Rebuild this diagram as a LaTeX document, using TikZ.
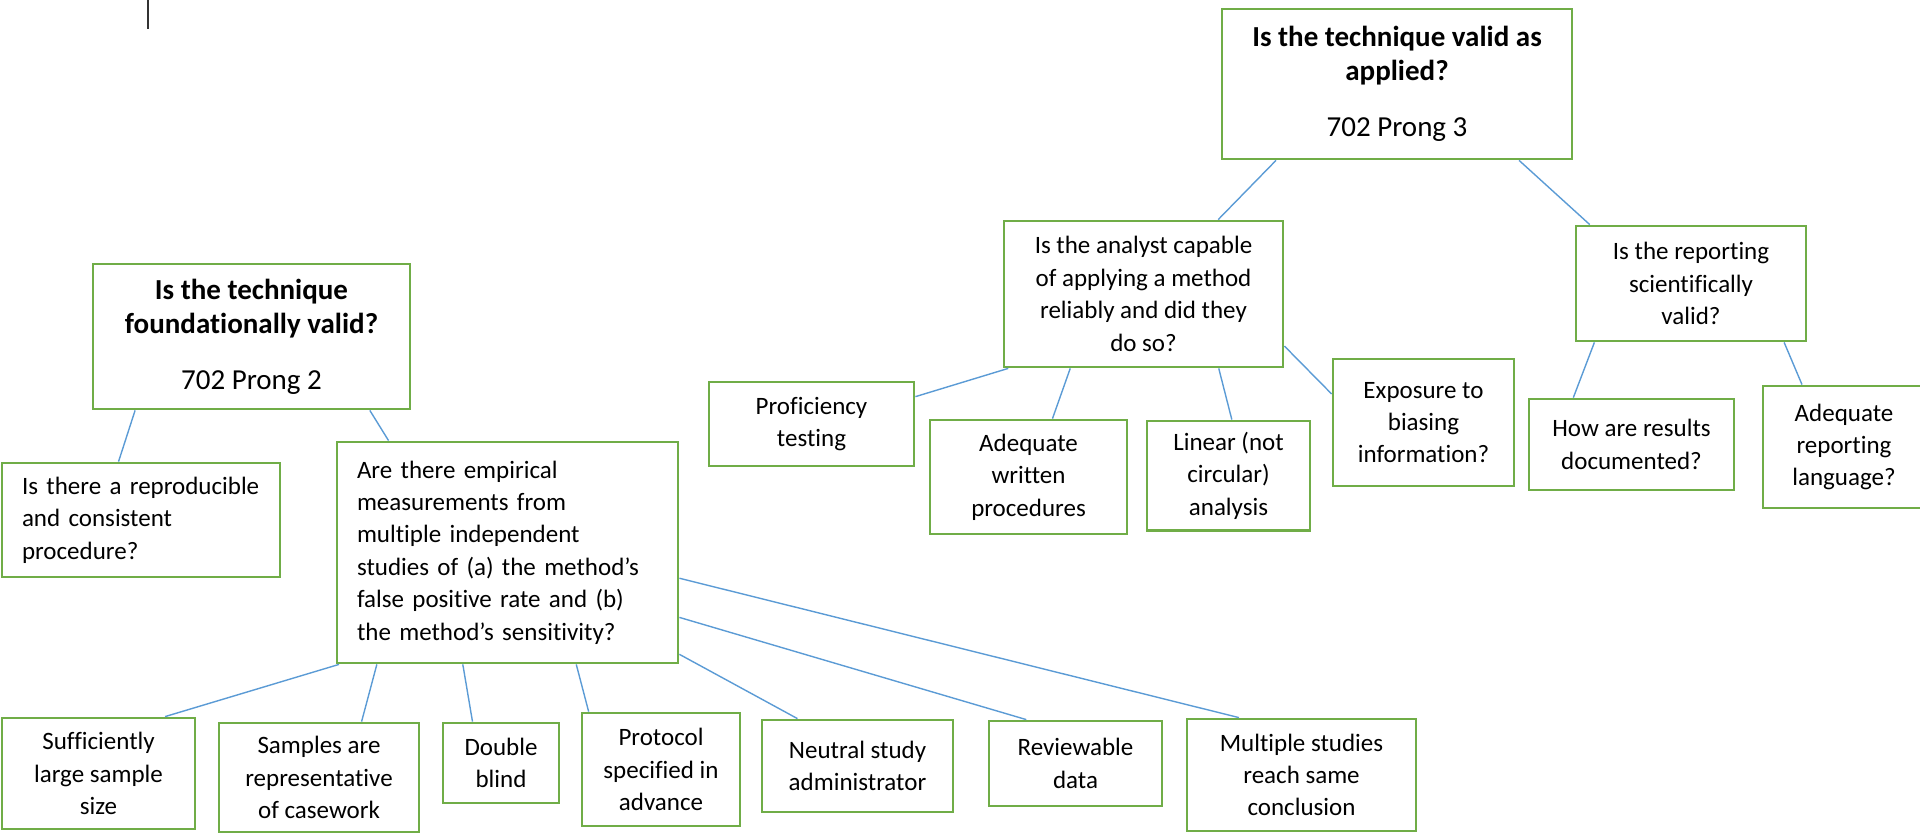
\documentclass[tikz,border=0pt]{standalone}
\usepackage{fontspec}
\setmainfont[Ligatures=NoCommon]{Carlito}
\usetikzlibrary{calc}
\definecolor{boxgreen}{RGB}{112,173,71}
\definecolor{lineblue}{RGB}{91,155,213}

\begin{document}
\begin{tikzpicture}[x=0.5pt,y=-0.5pt,
	box/.style={draw=boxgreen,line width=1.4pt,rectangle,inner sep=0pt,align=center,font=\fontsize{12.5}{16.2}\selectfont},
	title/.style={box,font=\fontsize{14.5}{17}\selectfont},
	link/.style={draw=lineblue,line width=0.7pt}]
	\useasboundingbox (0,0) rectangle (1920,833);
	\draw [line width=0.7pt,color=black!80] (148,0) -- (148,29);
	% the two prongs
	\node[title,minimum width=175pt,minimum height=75pt] (applied) at (1397,84) {\textbf{Is the technique valid as}\\\textbf{applied?}\\[11pt]702 Prong 3};
	\node[title,minimum width=158.5pt,minimum height=72.5pt] (found) at (251.5,336.5) {\textbf{Is the technique}\\\textbf{foundationally valid?}\\[11pt]702 Prong 2};
	\node[box,minimum width=139.5pt,minimum height=73pt] (analyst) at (1143.5,294) {Is the analyst capable\\of applying a method\\reliably and did they\\do so?};
	\node[box,minimum width=115pt,minimum height=57.5pt] (report) at (1691,283.5) {Is the reporting\\scientifically\\valid?};
	\node[box,align=left,text width=119pt,minimum width=139pt,minimum height=57pt] (repro) at (141,520) {Is there a reproducible\\and consistent\\procedure?};
	\node[box,align=left,text width=150.5pt,minimum width=170.5pt,minimum height=110.5pt] (empir) at (507.5,552.5) {Are there empirical\\measurements from\\multiple independent\\studies of (a) the method’s\\false positive rate and (b)\\the method’s sensitivity?};
	% as applied
	\node[box,minimum width=102.5pt,minimum height=42pt] (prof) at (811.5,424) {Proficiency\\testing};
	\node[box,minimum width=98.5pt,minimum height=57pt] (written) at (1028.5,477) {Adequate\\written\\procedures};
	\node[box,minimum width=81.5pt,minimum height=54.75pt] (linear) at (1228.5,475.75) {Linear (not\\circular)\\analysis};
	\node[box,minimum width=90.5pt,minimum height=63.5pt] (bias) at (1423.5,422.5) {Exposure to\\biasing\\information?};
	\node[box,minimum width=102.5pt,minimum height=45.5pt] (docu) at (1631.5,444.5) {How are results\\documented?};
	\node[box,minimum width=81pt,minimum height=61pt] (lang) at (1844,447) {Adequate\\reporting\\language?};
	% foundational
	\node[box,minimum width=96.5pt,minimum height=55.5pt] (size) at (98.5,773.5) {Sufficiently\\large sample\\size};
	\node[box,minimum width=100pt,minimum height=54.5pt] (cases) at (319,777.5) {Samples are\\representative\\of casework};
	\node[box,minimum width=58pt,minimum height=40pt] (blind) at (501,763) {Double\\blind};
	\node[box,minimum width=79pt,minimum height=56.5pt] (proto) at (661,769.5) {Protocol\\specified in\\advance};
	\node[box,minimum width=95.5pt,minimum height=46pt] (neutral) at (857.5,766) {Neutral study\\administrator};
	\node[box,minimum width=86.5pt,minimum height=42.5pt] (review) at (1075.5,763.5) {Reviewable\\data};
	\node[box,minimum width=114.5pt,minimum height=56pt] (multi) at (1301.5,775) {Multiple studies\\reach same\\conclusion};
	% links
	\draw[link] ($(found.south west)!.136!(found.south east)$) -- ($(repro.north west)!.42!(repro.north east)$);
	\draw[link] ($(found.south west)!.87!(found.south east)$) -- ($(empir.north west)!.154!(empir.north east)$);
	\draw[link] ($(applied.south west)!.157!(applied.south east)$) -- ($(analyst.north west)!.765!(analyst.north east)$);
	\draw[link] ($(applied.south west)!.846!(applied.south east)$) -- ($(report.north west)!.065!(report.north east)$);
	\draw[link] ($(analyst.south west)!.02!(analyst.south east)$) -- ($(prof.north east)!.185!(prof.south east)$);
	\draw[link] ($(analyst.south west)!.24!(analyst.south east)$) -- ($(written.north west)!.62!(written.north east)$);
	\draw[link] ($(analyst.south west)!.767!(analyst.south east)$) -- ($(linear.north west)!.52!(linear.north east)$);
	\draw[link] ($(analyst.north east)!.85!(analyst.south east)$) -- ($(bias.north west)!.28!(bias.south west)$);
	\draw[link] ($(report.south west)!.085!(report.south east)$) -- ($(docu.north west)!.22!(docu.north east)$);
	\draw[link] ($(report.south west)!.9!(report.south east)$) -- ($(lang.north west)!.245!(lang.north east)$);
	\draw[link] ($(empir.south west)!.01!(empir.south east)$) -- ($(size.north west)!.84!(size.north east)$);
	\draw[link] ($(empir.south west)!.12!(empir.south east)$) -- ($(cases.north west)!.71!(cases.north east)$);
	\draw[link] ($(empir.south west)!.37!(empir.south east)$) -- ($(blind.north west)!.26!(blind.north east)$);
	\draw[link] ($(empir.south west)!.70!(empir.south east)$) -- ($(proto.north west)!.05!(proto.north east)$);
	\draw[link] ($(empir.north east)!.955!(empir.south east)$) -- ($(neutral.north west)!.19!(neutral.north east)$);
	\draw[link] ($(empir.north east)!.79!(empir.south east)$) -- ($(review.north west)!.22!(review.north east)$);
	\draw[link] ($(empir.north east)!.615!(empir.south east)$) -- ($(multi.north west)!.23!(multi.north east)$);
\end{tikzpicture}
\end{document}
